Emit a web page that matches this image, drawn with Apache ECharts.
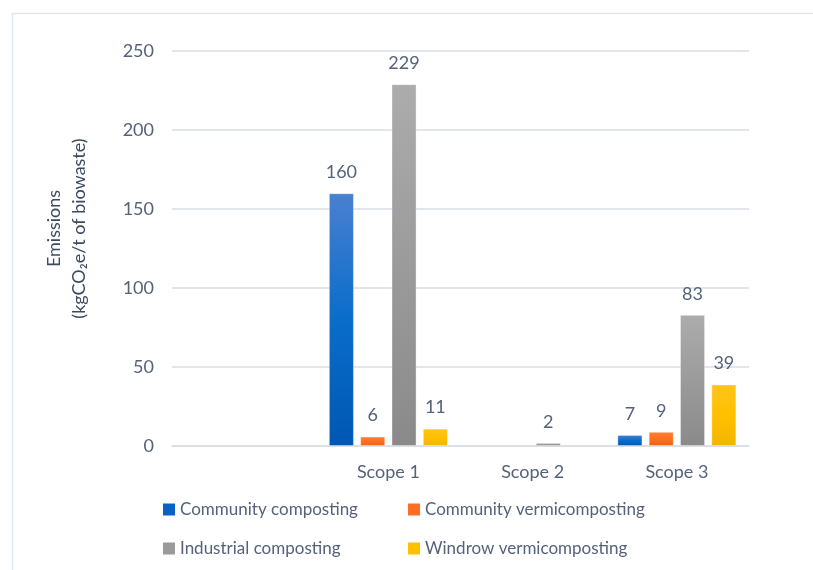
<!DOCTYPE html>
<html>
<head>
<meta charset="utf-8">
<script src="https://cdn.jsdelivr.net/npm/echarts@6/dist/echarts.min.js"></script>
<style>
html,body{margin:0;padding:0;background:#fff;}
#c{width:813px;height:570px;}
</style>
</head>
<body>
<div id="c"></div>
<script>
const categories = ['', 'Scope 1', 'Scope 2', 'Scope 3'];
const seriesNames = ['Community composting', 'Community vermicomposting', 'Industrial composting', 'Windrow vermicomposting'];
const communityComposting = [null, 160, null, 7];
const communityVermicomposting = [null, 6, null, 9];
const industrialComposting = [null, 229, 2, 83];
const windrowVermicomposting = [null, 11, null, 39];
const yTicks = [0, 50, 100, 150, 200, 250];

const seriesData = [communityComposting, communityVermicomposting, industrialComposting, windrowVermicomposting];
const gradients = [
  ['#4a80d0', '#0a6dca', '#0057b3'],
  ['#ff8236', '#ff6f22', '#ef6010'],
  ['#acacac', '#9b9b9b', '#8a8a8a'],
  ['#ffc41c', '#ffc000', '#f3b500']
];
const legendColors = ['#0a62c4', '#ff6d24', '#9a9a9a', '#ffc000'];
const textColor = '#55627a';
const font = 'Lato';

function grad(c) {
  return {type: 'linear', x: 0, y: 0, x2: 0, y2: 1,
    colorStops: [{offset: 0, color: c[0]}, {offset: 0.5, color: c[1]}, {offset: 1, color: c[2]}]};
}

const legendPos = [[163, 501], [408, 501], [163, 540], [408, 540]];

const chart = echarts.init(document.getElementById('c'));
chart.setOption({
  backgroundColor: '#ffffff',
  animation: false,
  textStyle: {fontFamily: font},
  graphic: [{
    type: 'rect', shape: {x: 12.5, y: 13.5, width: 900, height: 700},
    style: {fill: 'none', stroke: '#dfe5ec', lineWidth: 1.5}, silent: true
  }],
  grid: {left: 172, right: 64, top: 51, bottom: 124, containLabel: false},
  legend: seriesNames.map((n, i) => ({
    left: legendPos[i][0], top: legendPos[i][1], padding: 0,
    itemWidth: 12, itemHeight: 12, icon: 'rect',
    textStyle: {fontFamily: font, fontSize: 17, color: textColor},
    data: [{name: n, itemStyle: {color: legendColors[i], borderWidth: 0}}]
  })),
  xAxis: {
    type: 'category', data: categories,
    axisTick: {show: false},
    axisLine: {lineStyle: {color: '#d8dee6', width: 1.5}},
    axisLabel: {color: textColor, fontSize: 18, fontFamily: font, margin: 17}
  },
  yAxis: {
    type: 'value', min: 0, max: 250, interval: 50,
    axisLine: {show: false}, axisTick: {show: false},
    axisLabel: {color: textColor, fontSize: 18, fontFamily: font, margin: 18,
      formatter: v => yTicks.includes(v) ? String(v) : ''},
    splitLine: {lineStyle: {color: '#d8dee6', width: 1.5}},
    name: 'Emissions\n(kgCO\u2082e/t of biowaste)',
    nameLocation: 'middle', nameRotate: 90, nameGap: 80,
    nameTextStyle: {color: '#3d4b60', fontSize: 18, fontFamily: font, lineHeight: 25,
      padding: [0, 0, 0, 40]}
  },
  series: seriesData.map((d, i) => ({
    name: seriesNames[i], type: 'bar', data: d,
    barCategoryGap: '17.5%', barGap: '25%',
    itemStyle: {color: grad(gradients[i]), borderColor: 'rgba(255,255,255,0.35)', borderWidth: 1},
    label: {show: true, position: 'top', distance: 12, color: textColor,
      fontSize: 18, fontFamily: font,
      formatter: p => (p.value === null || p.value === undefined) ? '' : String(p.value)}
  }))
});
</script>
</body>
</html>
